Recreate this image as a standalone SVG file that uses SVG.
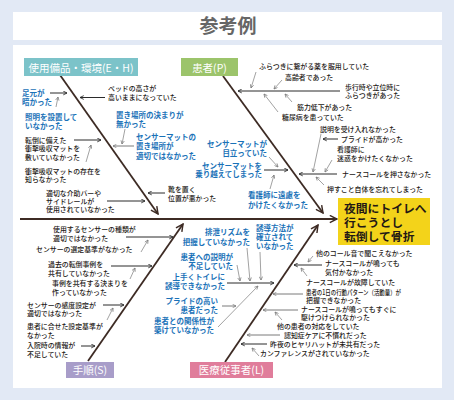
<svg xmlns="http://www.w3.org/2000/svg" width="454" height="400" viewBox="0 0 454 400">
<style>
.k{font-family:"Noto Sans CJK JP","Noto Sans",sans-serif;font-size:6.9px;font-weight:500;fill:#231815}
.b{font-family:"Noto Sans CJK JP","Noto Sans",sans-serif;font-size:7.5px;font-weight:700;fill:#1a72b8}
.r{text-anchor:end}
.cat{font-family:"Noto Sans CJK JP","Noto Sans",sans-serif;font-size:10.5px;fill:#fff;text-anchor:middle}
.bone{stroke:#3d2b24;stroke-width:1.8;fill:none;marker-end:url(#big)}
.d{stroke:#2b2b2b;stroke-width:1;fill:none;marker-end:url(#sd)}
.g{stroke:#7a7a7a;stroke-width:0.7;fill:none;marker-end:url(#sg)}
.gl{stroke:#7a7a7a;stroke-width:1;fill:none;marker-end:url(#sg)}
</style>
<defs>
<marker id="sd" viewBox="0 0 8 8" markerWidth="5" markerHeight="5" refX="7" refY="4" orient="auto" markerUnits="userSpaceOnUse"><path d="M1,1 L7,4 L1,7" fill="none" stroke="#2b2b2b" stroke-width="1.4"/></marker>
<marker id="sg" viewBox="0 0 8 8" markerWidth="4.5" markerHeight="4.5" refX="7" refY="4" orient="auto" markerUnits="userSpaceOnUse"><path d="M1,1 L7,4 L1,7" fill="none" stroke="#7a7a7a" stroke-width="1.3"/></marker>
<marker id="big" viewBox="0 0 10 10" markerWidth="9" markerHeight="9" refX="9" refY="5" orient="auto" markerUnits="userSpaceOnUse"><path d="M1,1 L9,5 L1,9" fill="none" stroke="#3d2b24" stroke-width="1.6"/></marker>
</defs>
<rect x="0" y="0" width="454" height="400" fill="#e2e9f5"/>
<rect x="13" y="12" width="429" height="28" fill="#fff"/>
<text x="228" y="33" style="font-family:'Noto Sans CJK JP',sans-serif;font-size:19px;font-weight:700;fill:#666;text-anchor:middle">参考例</text>
<rect x="13" y="45" width="429" height="343" fill="#fff"/>

<g id="connectors">
<line class="bone" x1="20" y1="219" x2="337" y2="219"/>
<line class="bone" x1="60" y1="75" x2="158" y2="214"/>
<line class="bone" x1="223" y1="76" x2="323" y2="213"/>
<line class="bone" x1="88" y1="361" x2="183" y2="224"/>
<line class="bone" x1="225" y1="362" x2="318" y2="225"/>
<line class="d" x1="50" y1="93" x2="67" y2="93"/>
<line class="g" x1="56" y1="107" x2="58" y2="97"/>
<line class="d" x1="105" y1="97.5" x2="80" y2="97.5"/>
<line class="d" x1="74" y1="140" x2="101" y2="140"/>
<line class="g" x1="86" y1="162" x2="91" y2="145"/>
<line class="d" x1="107" y1="201" x2="145" y2="201"/>
<line class="d" x1="165" y1="193" x2="148" y2="193"/>
<line class="g" x1="125" y1="129" x2="122" y2="144"/>
<line class="gl" x1="134" y1="146" x2="113" y2="146"/>
<line class="d" x1="340" y1="91" x2="238" y2="91"/>
<line class="g" x1="256" y1="72" x2="251" y2="88"/>
<line class="g" x1="282" y1="80" x2="274" y2="89"/>
<line class="g" x1="292" y1="102" x2="285" y2="94"/>
<line class="g" x1="278" y1="112" x2="264" y2="94"/>
<line class="d" x1="338" y1="139" x2="323" y2="139"/>
<line class="g" x1="321" y1="134" x2="313" y2="172"/>
<line class="g" x1="332" y1="160" x2="325" y2="172"/>
<line class="d" x1="337" y1="174" x2="299" y2="174"/>
<line class="g" x1="324" y1="185" x2="316" y2="177"/>
<line class="g" x1="269" y1="157" x2="278" y2="167"/>
<line class="d" x1="264" y1="170" x2="288" y2="170"/>
<line class="g" x1="270" y1="189" x2="274" y2="175"/>
<line class="d" x1="126" y1="237" x2="173" y2="237"/>
<line class="g" x1="141" y1="252" x2="148" y2="240"/>
<line class="d" x1="111" y1="266" x2="152" y2="266"/>
<line class="g" x1="130" y1="279" x2="135" y2="268"/>
<line class="d" x1="103" y1="305" x2="124" y2="305"/>
<line class="g" x1="107" y1="320" x2="113" y2="308"/>
<line class="d" x1="81" y1="346" x2="95" y2="346"/>
<line class="d" x1="227" y1="283" x2="274" y2="283"/>
<line class="g" x1="237" y1="265" x2="240" y2="281"/>
<line class="g" x1="247" y1="248" x2="250" y2="281"/>
<line class="g" x1="260" y1="252" x2="261" y2="280"/>
<line class="gl" x1="222" y1="306" x2="236" y2="306"/>
<line class="g" x1="218" y1="327" x2="258" y2="286"/>
<line class="g" x1="313" y1="256" x2="308" y2="262"/>
<line class="d" x1="322" y1="265" x2="294" y2="265"/>
<line class="g" x1="307" y1="276" x2="301" y2="268"/>
<line class="gl" x1="303" y1="294" x2="273" y2="294"/>
<line class="gl" x1="298" y1="310" x2="263" y2="310"/>
<line class="g" x1="282" y1="320" x2="275" y2="312"/>
<line class="gl" x1="280" y1="335" x2="247" y2="335"/>
<line class="d" x1="267" y1="344" x2="241" y2="344"/>
<line class="g" x1="259" y1="356" x2="252" y2="348"/>
</g>

<g id="effect">
<rect x="338" y="198" width="92" height="47" fill="#f3d31a"/>
<text style="font-family:'Noto Sans CJK JP',sans-serif;font-size:11.8px;font-weight:700;fill:#231815"><tspan x="344" y="213">夜間にトイレへ</tspan><tspan x="344" y="227">行こうとし</tspan><tspan x="344" y="241">転倒して骨折</tspan></text>
</g>

<g id="cat-EH"><rect x="24" y="58" width="114" height="18" fill="#7cc3c9"/><text class="cat" x="81" y="71.5">使用備品・環境(E・H)</text></g>
<g id="cat-P"><rect x="181" y="58" width="57" height="18" fill="#9cc46b"/><text class="cat" x="209.5" y="71.5">患者(P)</text></g>
<g id="cat-S"><rect x="66" y="362" width="48" height="16" fill="#a89dc9"/><text class="cat" x="90" y="374">手順(S)</text></g>
<g id="cat-L"><rect x="190" y="362" width="83" height="16" fill="#e07d9b"/><text class="cat" x="231.5" y="374">医療従事者(L)</text></g>

<g id="eh-causes">
<text class="b"><tspan x="22" y="95.5">足元が</tspan><tspan x="22" y="104.5">暗かった</tspan></text>
<text class="b"><tspan x="25" y="119.5">照明を設置して</tspan><tspan x="25" y="128.5">いなかった</tspan></text>
<text class="k"><tspan x="108" y="91">ベッドの高さが</tspan><tspan x="108" y="100">高いままになっていた</tspan></text>
<text class="k"><tspan x="25" y="142.5">転倒に備えた</tspan><tspan x="25" y="151">衝撃吸収マットを</tspan><tspan x="25" y="159.5">敷いていなかった</tspan></text>
<text class="k"><tspan x="25" y="173.5">衝撃吸収マットの存在を</tspan><tspan x="25" y="182">知らなかった</tspan></text>
<text class="k"><tspan x="46" y="195.5">適切な介助バーや</tspan><tspan x="46" y="203.5">サイドレールが</tspan><tspan x="46" y="211.5">使用されていなかった</tspan></text>
<text class="k"><tspan x="168" y="191.5">靴を置く</tspan><tspan x="168" y="200.5">位置が悪かった</tspan></text>
<text class="b"><tspan x="116" y="117.5">置き場所の決まりが</tspan><tspan x="116" y="126.5">無かった</tspan></text>
<text class="b"><tspan x="136" y="139.5">センサーマットの</tspan><tspan x="136" y="149">置き場所が</tspan><tspan x="136" y="158.5">適切ではなかった</tspan></text>
</g>

<g id="p-causes">
<text class="k"><tspan x="345" y="89.5">歩行時や立位時に</tspan><tspan x="345" y="98">ふらつきがあった</tspan></text>
<text class="k" x="259" y="68.5">ふらつきに繋がる薬を服用していた</text>
<text class="k" x="285" y="79.5">高齢者であった</text>
<text class="k" x="297" y="109.5">筋力低下があった</text>
<text class="k" x="282" y="119.5">糖尿病を患っていた</text>
<text class="k" x="320" y="131.5">説明を受け入れなかった</text>
<text class="k" x="341" y="141.5">プライドが高かった</text>
<text class="k"><tspan x="337" y="151.5">看護師に</tspan><tspan x="337" y="160.5">迷惑をかけたくなかった</tspan></text>
<text class="k" x="342" y="176.5">ナースコールを押さなかった</text>
<text class="k" x="327" y="191.5">押すこと自体を忘れてしまった</text>
<text class="b r"><tspan x="267" y="147">センサーマットが</tspan><tspan x="267" y="156">目立っていた</tspan></text>
<text class="b r"><tspan x="262" y="168.5">センサーマットを</tspan><tspan x="262" y="177">乗り越えてしまった</tspan></text>
<text class="b"><tspan x="248" y="197.5">看護師に遠慮を</tspan><tspan x="248" y="207.5">かけたくなかった</tspan></text>
</g>

<g id="s-causes">
<text class="k"><tspan x="53" y="231.5">使用するセンサーの種類が</tspan><tspan x="53" y="240.5">適切ではなかった</tspan></text>
<text class="k" x="36" y="251.5">センサーの選定基準がなかった</text>
<text class="k"><tspan x="48" y="266.5">過去の転倒事例を</tspan><tspan x="48" y="275.5">共有していなかった</tspan></text>
<text class="k"><tspan x="52" y="285.5">事例を共有する決まりを</tspan><tspan x="52" y="294.5">作っていなかった</tspan></text>
<text class="k"><tspan x="27" y="307.5">センサーの感度設定が</tspan><tspan x="27" y="315.5">適切ではなかった</tspan></text>
<text class="k"><tspan x="27" y="328.5">患者に合せた設定基準が</tspan><tspan x="27" y="337.5">なかった</tspan></text>
<text class="k"><tspan x="27" y="347.5">入院時の情報が</tspan><tspan x="27" y="356.5">不足していた</tspan></text>
</g>

<g id="l-causes">
<text class="b r"><tspan x="250" y="234.5">排泄リズムを</tspan><tspan x="250" y="244.5">把握していなかった</tspan></text>
<text class="b"><tspan x="256" y="230.5">誘導方法が</tspan><tspan x="256" y="239.5">確立されて</tspan><tspan x="256" y="248.5">いなかった</tspan></text>
<text class="b r"><tspan x="233" y="259.5">患者への説明が</tspan><tspan x="233" y="268.5">不足していた</tspan></text>
<text class="b r"><tspan x="225" y="279.5">上手くトイレに</tspan><tspan x="225" y="288.5">誘導できなかった</tspan></text>
<text class="b r"><tspan x="218" y="303.5">プライドの高い</tspan><tspan x="218" y="312.5">患者だった</tspan></text>
<text class="b r"><tspan x="214" y="323.5">患者との関係性が</tspan><tspan x="214" y="332.5">築けていなかった</tspan></text>
<text class="k" x="316" y="255.5">他のコール音で聞こえなかった</text>
<text class="k"><tspan x="325" y="265.5">ナースコールが鳴っても</tspan><tspan x="325" y="274.5">気付かなかった</tspan></text>
<text class="k" x="306" y="284.5">ナースコールが故障していた</text>
<text class="k"><tspan x="306" y="294.5" textLength="95" lengthAdjust="spacingAndGlyphs">患者の1日の行動パターン（活動量）が</tspan><tspan x="306" y="302.5">把握できなかった</tspan></text>
<text class="k"><tspan x="301" y="312">ナースコールが鳴ってもすぐに</tspan><tspan x="301" y="319.5">駆けつけられなかった</tspan></text>
<text class="k" x="277" y="328.5">他の患者の対応をしていた</text>
<text class="k" x="284" y="337.5">認知症ケアに不慣れだった</text>
<text class="k" x="270" y="346.5">昨夜のヒヤリハットが未共有だった</text>
<text class="k" x="260" y="355.5">カンファレンスがされていなかった</text>
</g>
</svg>
